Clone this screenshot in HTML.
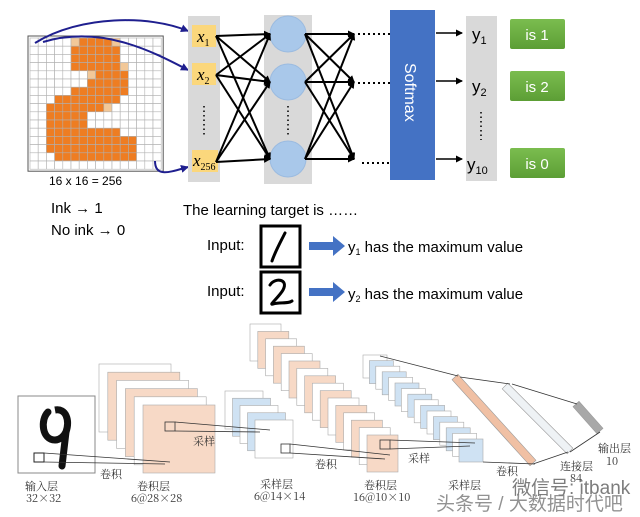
<!DOCTYPE html>
<html><head><meta charset="utf-8"><style>
html,body{margin:0;padding:0;background:#fff;width:640px;height:517px;overflow:hidden}
svg{display:block}
.t{font-family:"Liberation Sans","Noto Sans CJK SC",sans-serif}
.c{font-family:"Noto Serif CJK SC","Liberation Serif",serif;fill:#333}
</style></head><body>
<svg id="s" width="640" height="517" xmlns="http://www.w3.org/2000/svg">
<defs>
<marker id="ab" markerWidth="8" markerHeight="8" refX="7" refY="4" orient="auto" markerUnits="userSpaceOnUse"><path d="M0,0 L8,4 L0,8z" fill="#1f1f8f"/></marker>
<marker id="ak" markerWidth="7" markerHeight="7" refX="6" refY="3.5" orient="auto" markerUnits="userSpaceOnUse"><path d="M0,0 L7,3.5 L0,7z" fill="#000"/></marker>
<linearGradient id="gg" x1="0" y1="0" x2="0" y2="1"><stop offset="0" stop-color="#7bbd4f"/><stop offset="1" stop-color="#5c9e35"/></linearGradient>
</defs>
<g id="grid"></g>
<path d="M35,43 C80,15 150,15 188,31" fill="none" stroke="#1f1f8f" stroke-width="2" marker-end="url(#ab)"/>
<path d="M43,42 C100,25 150,50 188,70" fill="none" stroke="#1f1f8f" stroke-width="2" marker-end="url(#ab)"/>
<path d="M155,161 C155,178 170,172 188,167" fill="none" stroke="#1f1f8f" stroke-width="2" marker-end="url(#ab)"/>
<rect x="188" y="16" width="32" height="166" fill="#d9d9d9"/>
<rect x="192" y="25" width="24" height="22" fill="#fbd77c"/>
<rect x="192" y="63" width="24" height="22" fill="#fbd77c"/>
<rect x="192" y="150" width="26" height="22" fill="#fbd77c"/>
<text x="197" y="42" font-family="Liberation Serif,serif" font-style="italic" font-size="17">x<tspan font-size="10" dy="4" font-style="normal">1</tspan></text>
<text x="197" y="80" font-family="Liberation Serif,serif" font-style="italic" font-size="17">x<tspan font-size="10" dy="4" font-style="normal">2</tspan></text>
<text x="193" y="166" font-family="Liberation Serif,serif" font-style="italic" font-size="17">x<tspan font-size="10" dy="4" font-style="normal">256</tspan></text>
<line x1="204" y1="106" x2="204" y2="136" stroke="#333" stroke-width="2" stroke-dasharray="1.5,3"/>
<rect x="264" y="15" width="48" height="169" fill="#d9d9d9"/>
<circle cx="288" cy="34" r="18" fill="#a9c8ea" stroke="#9bbbe0"/>
<circle cx="288" cy="82" r="18" fill="#a9c8ea" stroke="#9bbbe0"/>
<circle cx="288" cy="159" r="18" fill="#a9c8ea" stroke="#9bbbe0"/>
<line x1="288" y1="106" x2="288" y2="136" stroke="#333" stroke-width="2" stroke-dasharray="1.5,3"/>
<g id="net" stroke="#000" stroke-width="2"></g>
<g stroke="#000" stroke-width="2" stroke-dasharray="2,3"><line x1="358" y1="34" x2="390" y2="34"/><line x1="358" y1="83" x2="390" y2="83"/><line x1="362" y1="163" x2="390" y2="163"/></g>
<rect x="390" y="10" width="45" height="170" fill="#4472c4"/>
<text transform="translate(405,63) rotate(90)" class="t" font-size="16" fill="#fff">Softmax</text>
<g stroke="#000" stroke-width="1.5"><line x1="436" y1="33" x2="462" y2="33" marker-end="url(#ak)"/><line x1="436" y1="81" x2="462" y2="81" marker-end="url(#ak)"/><line x1="436" y1="159" x2="462" y2="159" marker-end="url(#ak)"/></g>
<rect x="466" y="16" width="31" height="165" fill="#d9d9d9"/>
<text x="472" y="40" class="t" font-size="17">y<tspan font-size="11" dy="4">1</tspan></text>
<text x="472" y="92" class="t" font-size="17">y<tspan font-size="11" dy="4">2</tspan></text>
<text x="467" y="170" class="t" font-size="17">y<tspan font-size="11" dy="4">10</tspan></text>
<line x1="481" y1="112" x2="481" y2="140" stroke="#333" stroke-width="2" stroke-dasharray="1.5,3"/>
<rect x="510" y="19" width="55" height="30" fill="url(#gg)" rx="2"/>
<rect x="510" y="71" width="55" height="30" fill="url(#gg)" rx="2"/>
<rect x="510" y="148" width="55" height="30" fill="url(#gg)" rx="2"/>
<text x="537" y="40" text-anchor="middle" class="t" font-size="15" fill="#fff">is 1</text>
<text x="537" y="92" text-anchor="middle" class="t" font-size="15" fill="#fff">is 2</text>
<text x="537" y="169" text-anchor="middle" class="t" font-size="15" fill="#fff">is 0</text>
<text x="49" y="185" class="t" font-size="12">16 x 16 = 256</text>
<text x="51" y="213" class="t" font-size="15">Ink → 1</text>
<text x="51" y="235" class="t" font-size="15">No ink → 0</text>
<text x="183" y="215" class="t" font-size="15">The learning target is ……</text>
<text x="207" y="250" class="t" font-size="15">Input:</text>
<text x="207" y="296" class="t" font-size="15">Input:</text>
<rect x="261" y="226" width="39" height="41" fill="none" stroke="#000" stroke-width="3"/>
<rect x="261" y="272" width="39" height="41" fill="none" stroke="#000" stroke-width="3"/>
<path d="M285,233 C280,243 275,252 272,261" fill="none" stroke="#000" stroke-width="3" stroke-linecap="round"/>
<path d="M270,285 C275,277 289,279 283,290 C279,297 268,306 273,304 C280,302 288,304 292,301" fill="none" stroke="#000" stroke-width="3" stroke-linecap="round"/>
<path d="M309,242 h24 v-6 l12,10 l-12,10 v-6 h-24z" fill="#4472c4"/>
<path d="M309,288 h24 v-6 l12,10 l-12,10 v-6 h-24z" fill="#4472c4"/>
<text x="348" y="252" class="t" font-size="15">y<tspan font-size="9" dy="3">1</tspan><tspan dy="-3"> has the maximum value</tspan></text>
<text x="348" y="299" class="t" font-size="15">y<tspan font-size="9" dy="3">2</tspan><tspan dy="-3"> has the maximum value</tspan></text>
<g id="bot"></g>
<rect x="18" y="396" width="77" height="77" fill="#fff" stroke="#888"/>
<path d="M48,412 C40,420 42,440 55,440 C60,440 64,436 66,432 L62,466" fill="none" stroke="#111" stroke-width="7" stroke-linecap="round"/>
<path d="M55,410 C66,408 70,420 66,432" fill="none" stroke="#111" stroke-width="7"/>
<rect x="34" y="453" width="10" height="9" fill="none" stroke="#222"/>
<g stroke="#333" stroke-width="0.8" fill="none">
<line x1="44" y1="453" x2="170" y2="462"/><line x1="44" y1="462" x2="165" y2="464"/>
<rect x="165" y="422" width="10" height="9"/>
<line x1="175" y1="422" x2="270" y2="430"/><line x1="175" y1="431" x2="260" y2="432"/>
<rect x="281" y="444" width="9" height="9"/>
<line x1="290" y1="444" x2="390" y2="455"/><line x1="290" y1="453" x2="385" y2="459"/>
<rect x="380" y="440" width="10" height="9"/>
<line x1="390" y1="440" x2="475" y2="443"/><line x1="390" y1="449" x2="470" y2="446"/>
<line x1="380" y1="356" x2="458" y2="376"/><line x1="483" y1="462" x2="535" y2="464"/>
<line x1="460" y1="377" x2="510" y2="384"/><line x1="533" y1="464" x2="568" y2="452"/>
<line x1="512" y1="384" x2="577" y2="404"/><line x1="570" y1="452" x2="600" y2="432"/>
</g>
<text x="100" y="478" class="c" font-size="11">卷积</text>
<text x="193" y="445" class="c" font-size="11">采样</text>
<text x="315" y="468" class="c" font-size="11">卷积</text>
<text x="408" y="462" class="c" font-size="11">采样</text>
<text x="496" y="475" class="c" font-size="11">卷积</text>
<text x="25" y="490" class="c" font-size="11">输入层</text><text x="26" y="502" class="c" font-size="11">32×32</text>
<text x="137" y="490" class="c" font-size="11">卷积层</text><text x="131" y="502" class="c" font-size="11">6@28×28</text>
<text x="260" y="488" class="c" font-size="11">采样层</text><text x="254" y="500" class="c" font-size="11">6@14×14</text>
<text x="364" y="489" class="c" font-size="11">卷积层</text><text x="353" y="501" class="c" font-size="11">16@10×10</text>
<text x="448" y="489" class="c" font-size="11">采样层</text>
<text x="560" y="470" class="c" font-size="11">连接层</text><text x="570" y="482" class="c" font-size="11">84</text>
<text x="598" y="452" class="c" font-size="11">输出层</text><text x="606" y="465" class="c" font-size="11">10</text>
<text x="512" y="494" class="t" font-size="19" fill="#666" fill-opacity="0.85">微信号: itbank</text>
<text x="436" y="510" class="t" font-size="19" fill="#777" fill-opacity="0.8">头条号 / 大数据时代吧</text>
</svg>
<script>
var NS="http://www.w3.org/2000/svg",s=document.getElementById('s');
function el(p,t,a){var e=document.createElementNS(NS,t);for(var k in a)e.setAttribute(k,a[k]);p.appendChild(e);return e;}
var g=document.getElementById('grid');
var map={0:[5,10],1:[5,10],2:[5,10],3:[5,11],4:[7,11],5:[7,11],6:[5,11],7:[3,10],8:[2,9],9:[2,6],10:[2,6],11:[2,10],12:[2,12],13:[2,12],14:[3,12]};
var x0=30,y0=38,cs=8.2;
el(g,'rect',{x:x0-2,y:y0-2,width:16*cs+4,height:16*cs+4,fill:'#fff',stroke:'#555'});
for(var r=0;r<16;r++)for(var c=0;c<16;c++){var f='#fff';if(map[r]&&c>=map[r][0]&&c<=map[r][1])f='#ee7d22';
if((r==0&&(c==5||c==10))||(r==4&&c==7)||(r==8&&c==9)||(r==3&&c==11))f='#f2c898';
el(g,'rect',{x:x0+c*cs,y:y0+r*cs,width:cs,height:cs,fill:f,stroke:'#b0b0b0','stroke-width':0.6});}
var n=document.getElementById('net'),ai=[36,75,162],h=[34,82,159];
ai.forEach(function(a){h.forEach(function(b){el(n,'line',{x1:216,y1:a,x2:270,y2:b,'marker-end':'url(#ak)'});});});
h.forEach(function(a){h.forEach(function(b){el(n,'line',{x1:305,y1:a,x2:354,y2:b,'marker-end':'url(#ak)'});});});
var b=document.getElementById('bot');
function stack(n,bx,by,fx,fy,w,hh,cols){for(var i=0;i<n;i++){var t=n==1?1:i/(n-1);
el(b,'rect',{x:bx+(fx-bx)*t,y:by+(fy-by)*t,width:w,height:hh,fill:cols[i%cols.length],stroke:'#aaa','stroke-width':0.6});}}
stack(6,99,364,143,405,72,68,['#fff','#f7d9c6']);
stack(5,225,391,255,420,38,38,['#fff','#cfe2f3']);
stack(16,250,324,367,435,31,37,['#fff','#f7d9c6']);
stack(16,363,355,459,439,24,23,['#fff','#cfe2f3']);
function bar(x1,y1,x2,y2,w,c){var dx=x2-x1,dy=y2-y1,L=Math.hypot(dx,dy),nx=-dy/L*w/2,ny=dx/L*w/2;
el(b,'polygon',{points:(x1+nx)+','+(y1+ny)+' '+(x2+nx)+','+(y2+ny)+' '+(x2-nx)+','+(y2-ny)+' '+(x1-nx)+','+(y1-ny),fill:c,stroke:'#999','stroke-width':0.6});}
bar(455,377,533,463,8,'#f0c0a4');bar(505,386,570,451,8,'#eef2f5');bar(576,404,600,431,8,'#a8a8a8');
</script>
</body></html>
